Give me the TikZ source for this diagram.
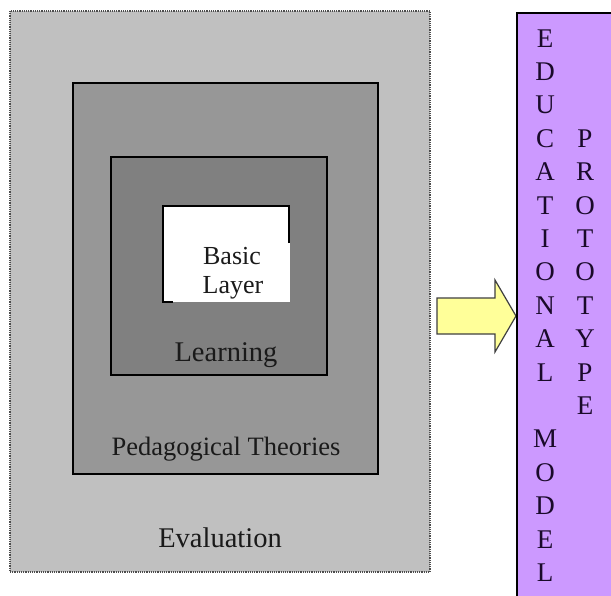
\documentclass[tikz,border=0pt]{standalone}
\usepackage{fontspec}
\setmainfont{Liberation Serif}
\definecolor{evalgray}{HTML}{C0C0C0}
\definecolor{pedgray}{HTML}{979797}
\definecolor{learngray}{HTML}{808080}
\definecolor{protopurple}{HTML}{CC99FF}
\definecolor{arrowyellow}{HTML}{FFFF99}
\definecolor{txt}{HTML}{1A1A1A}
\definecolor{lettercol}{HTML}{1A0A2A}
\tikzset{
  layerbox/.style={draw=black, line width=1.4pt},
  lbl/.style={anchor=base, inner sep=0pt, text=txt},
  letter/.style={anchor=base, inner sep=0pt, text=lettercol, font=\fontsize{27}{30}\selectfont},
}
\begin{document}
\begin{tikzpicture}[x=1pt,y=-1pt]
\useasboundingbox (0,0) rectangle (611,595);
\fill[white] (0,0) rectangle (611,595);
% evaluation (outer) box
\fill[evalgray] (10,11) rectangle (430,572);
\draw[black!70, densely dotted, line width=1.2pt] (10,11) rectangle (430,572);
% pedagogical theories box
\filldraw[layerbox, fill=pedgray] (73,83) rectangle (378,474);
% learning box
\filldraw[layerbox, fill=learngray] (111,157) rectangle (327,375);
% basic layer box
\fill[white] (163,206) rectangle (290,302);
\draw[black, line width=1.3pt] (289,243) -- (289,206) -- (163,206) -- (163,302) -- (173,302);
% texts
\node[lbl, font=\fontsize{26}{29}\selectfont] (basic) at (232,264) {Basic};
\node[lbl, font=\fontsize{26}{29}\selectfont] (layer) at (233,293) {Layer};
\node[lbl, font=\fontsize{28.5}{32}\selectfont] (learning) at (226,361) {Learning};
\node[lbl, font=\fontsize{26.5}{30}\selectfont] (ped) at (226,455) {Pedagogical Theories};
\node[lbl, font=\fontsize{28.5}{32}\selectfont] (eval) at (220,547) {Evaluation};
% arrow
\filldraw[fill=arrowyellow, draw=black!75, line width=1.2pt, line join=miter]
  (437,298) -- (495,298) -- (495,280) -- (516,316) -- (495,352) -- (495,334) -- (437,334) -- cycle;
% prototype box
\begin{scope}
\clip (0,0) rectangle (611,595);
\filldraw[fill=protopurple, draw=black, line width=1.3pt] (517,13) rectangle (640,620);
\end{scope}
% letters
\foreach \ch [count=\i from 0] in {E,D,U,C,A,T,I,O,N,A,L}
  \node[letter] (e\i) at (545,{47+33.4*\i}) {\ch};
\foreach \ch [count=\i from 12] in {M,O,D,E,L}
  \node[letter] (m\i) at (545,{47+33.4*\i}) {\ch};
\foreach \ch [count=\i from 3] in {P,R,O,T,O,T,Y,P,E}
  \node[letter] (p\i) at (585,{47+33.4*\i}) {\ch};
\end{tikzpicture}
\end{document}
